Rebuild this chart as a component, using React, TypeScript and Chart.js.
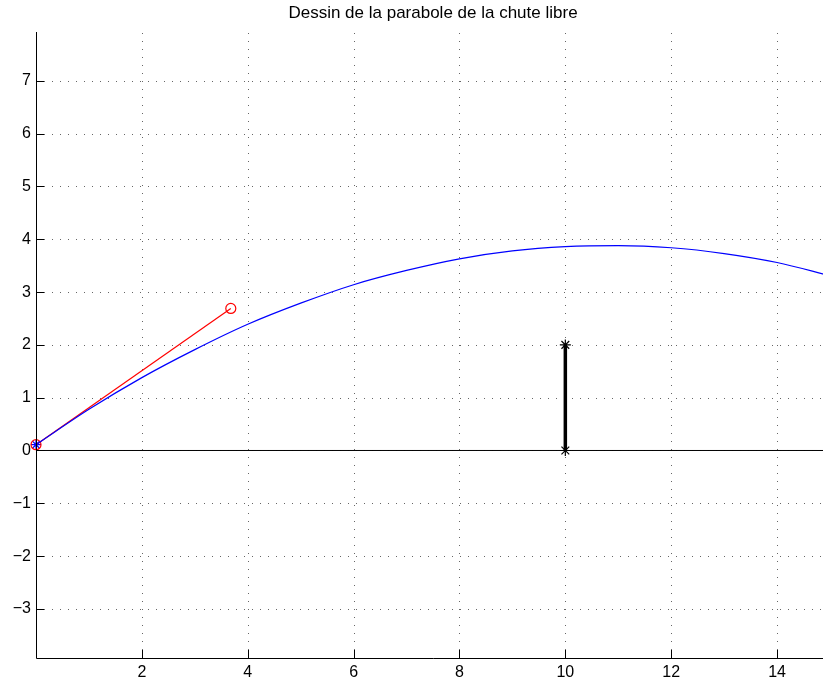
import React, { useEffect, useRef } from "react";
import { Chart, registerables } from "chart.js";

Chart.register(...registerables);

const titleText = "Dessin de la parabole de la chute libre";
const xTicks = [2, 4, 6, 8, 10, 12, 14];
const yTicks = [-3, -2, -1, 0, 1, 2, 3, 4, 5, 6, 7];
const xMin = 0;
const xMax = 15;
const yMin = -3.93;
const yMax = 7.926;

// blue trajectory (parabola)
const curveX = [0, 1, 2, 3, 4, 5, 6, 7, 8, 9, 10, 11, 12, 13, 14, 15];
const curveY = [0.11, 0.78, 1.38, 1.91, 2.39, 2.79, 3.14, 3.41, 3.63, 3.78, 3.86, 3.88, 3.84, 3.73, 3.56, 3.31];

// red initial velocity vector
const vectorX = [0, 3.68];
const vectorY = [0.11, 2.69];

// black vertical bar (target)
const barX = [10, 10];
const barY = [0, 2];

// ground line
const groundX = [0, 15];
const groundY = [0, 0];

const toPts = (xs: number[], ys: number[]) => xs.map((x, i) => ({ x, y: ys[i] }));
const fmt = (v: number) => (v < 0 ? "\u2212" + Math.abs(v) : String(v));

const FONT = "'Liberation Sans', Arial, Helvetica, sans-serif";

const decorPlugin = {
  id: "decor",
  beforeDatasetsDraw(chart: any) {
    const { ctx, chartArea: a, scales } = chart;
    const xs = scales.x, ys = scales.y;
    ctx.save();
    ctx.strokeStyle = "#666666";
    ctx.lineWidth = 1;
    ctx.setLineDash([1, 7]);
    for (const v of xTicks) {
      const px = Math.round(xs.getPixelForValue(v)) + 0.5;
      ctx.beginPath();
      ctx.moveTo(px, a.bottom);
      ctx.lineTo(px, a.top);
      ctx.stroke();
    }
    for (const v of yTicks) {
      const py = Math.round(ys.getPixelForValue(v)) + 0.5;
      ctx.beginPath();
      ctx.moveTo(a.left, py);
      ctx.lineTo(a.right, py);
      ctx.stroke();
    }
    ctx.restore();
  },
  afterDatasetsDraw(chart: any) {
    const { ctx, chartArea: a, scales } = chart;
    const xs = scales.x, ys = scales.y;
    ctx.save();
    ctx.setLineDash([]);
    ctx.strokeStyle = "#000";
    ctx.lineWidth = 1;
    ctx.beginPath();
    ctx.moveTo(a.left + 0.5, a.top);
    ctx.lineTo(a.left + 0.5, a.bottom + 0.5);
    ctx.lineTo(a.right, a.bottom + 0.5);
    ctx.stroke();
    for (const v of xTicks) {
      const px = Math.round(xs.getPixelForValue(v)) + 0.5;
      ctx.beginPath();
      ctx.moveTo(px, a.bottom);
      ctx.lineTo(px, a.bottom - 8);
      ctx.stroke();
    }
    for (const v of yTicks) {
      const py = Math.round(ys.getPixelForValue(v)) + 0.5;
      ctx.beginPath();
      ctx.moveTo(a.left, py);
      ctx.lineTo(a.left + 8, py);
      ctx.stroke();
    }
    ctx.fillStyle = "#000";
    ctx.font = "17px " + FONT;
    ctx.textAlign = "center";
    ctx.textBaseline = "middle";
    ctx.fillText(titleText, (a.left + a.right) / 2, 13);
    ctx.restore();
  },
};

export default function App() {
  const ref = useRef<HTMLCanvasElement | null>(null);
  useEffect(() => {
    document.body.style.margin = "0";
    const canvas = ref.current!;
    const chart = new Chart(canvas, {
      type: "scatter",
      data: {
        datasets: [
          {
            data: toPts(groundX, groundY),
            showLine: true,
            borderColor: "#000",
            borderWidth: 1,
            pointRadius: 0,
          },
          {
            data: toPts(curveX, curveY),
            showLine: true,
            borderColor: "#0000ff",
            borderWidth: 1.2,
            pointRadius: 0,
            cubicInterpolationMode: "monotone",
          },
          {
            data: toPts(vectorX, vectorY),
            showLine: true,
            borderColor: "#ff0000",
            borderWidth: 1.2,
            pointStyle: "circle",
            pointRadius: 5,
            pointBorderColor: "#ff0000",
            pointBackgroundColor: "rgba(0,0,0,0)",
            pointBorderWidth: 1.2,
            clip: false,
          },
          {
            data: toPts([curveX[0]], [curveY[0]]),
            showLine: false,
            pointStyle: "star",
            pointRadius: 5,
            pointBorderColor: "#0000ff",
            pointBorderWidth: 1.2,
            clip: false,
          },
          {
            data: toPts(barX, barY),
            showLine: true,
            borderColor: "#000",
            borderWidth: 3.5,
            pointStyle: "star",
            pointRadius: 5.5,
            pointBorderColor: "#000",
            pointBorderWidth: 1.2,
            clip: false,
          },
        ],
      } as any,
      options: {
        animation: false,
        responsive: false,
        maintainAspectRatio: false,
        layout: { autoPadding: false, padding: { top: 32, right: 0, left: 0, bottom: 0 } },
        plugins: { legend: { display: false }, tooltip: { enabled: false }, title: { display: false } },
        scales: {
          x: {
            type: "linear",
            min: xMin,
            max: xMax,
            grid: { display: false, drawTicks: false, tickLength: 0 },
            border: { display: false },
            afterBuildTicks: (s: any) => {
              s.ticks = xTicks.map((v) => ({ value: v }));
            },
            afterFit: (s: any) => {
              s.height = 24;
            },
            ticks: {
              autoSkip: false,
              maxRotation: 0,
              padding: 5,
              color: "#000",
              font: { family: FONT, size: 16 },
              callback: (v: any) => fmt(Number(v)),
            },
          },
          y: {
            type: "linear",
            min: yMin,
            max: yMax,
            grid: { display: false, drawTicks: false, tickLength: 0 },
            border: { display: false },
            afterBuildTicks: (s: any) => {
              s.ticks = yTicks.map((v) => ({ value: v }));
            },
            afterFit: (s: any) => {
              s.width = 36;
            },
            ticks: {
              autoSkip: false,
              padding: 5,
              color: "#000",
              font: { family: FONT, size: 16 },
              callback: (v: any) => fmt(Number(v)),
            },
          },
        },
      } as any,
      plugins: [decorPlugin],
    });
    return () => chart.destroy();
  }, []);
  return (
    <div style={{ position: "absolute", left: 0, top: 0, width: 823, height: 682, overflow: "hidden", background: "#fff" }}>
      <canvas ref={ref} width={830} height={682} style={{ width: 830, height: 682, display: "block" }} />
    </div>
  );
}
